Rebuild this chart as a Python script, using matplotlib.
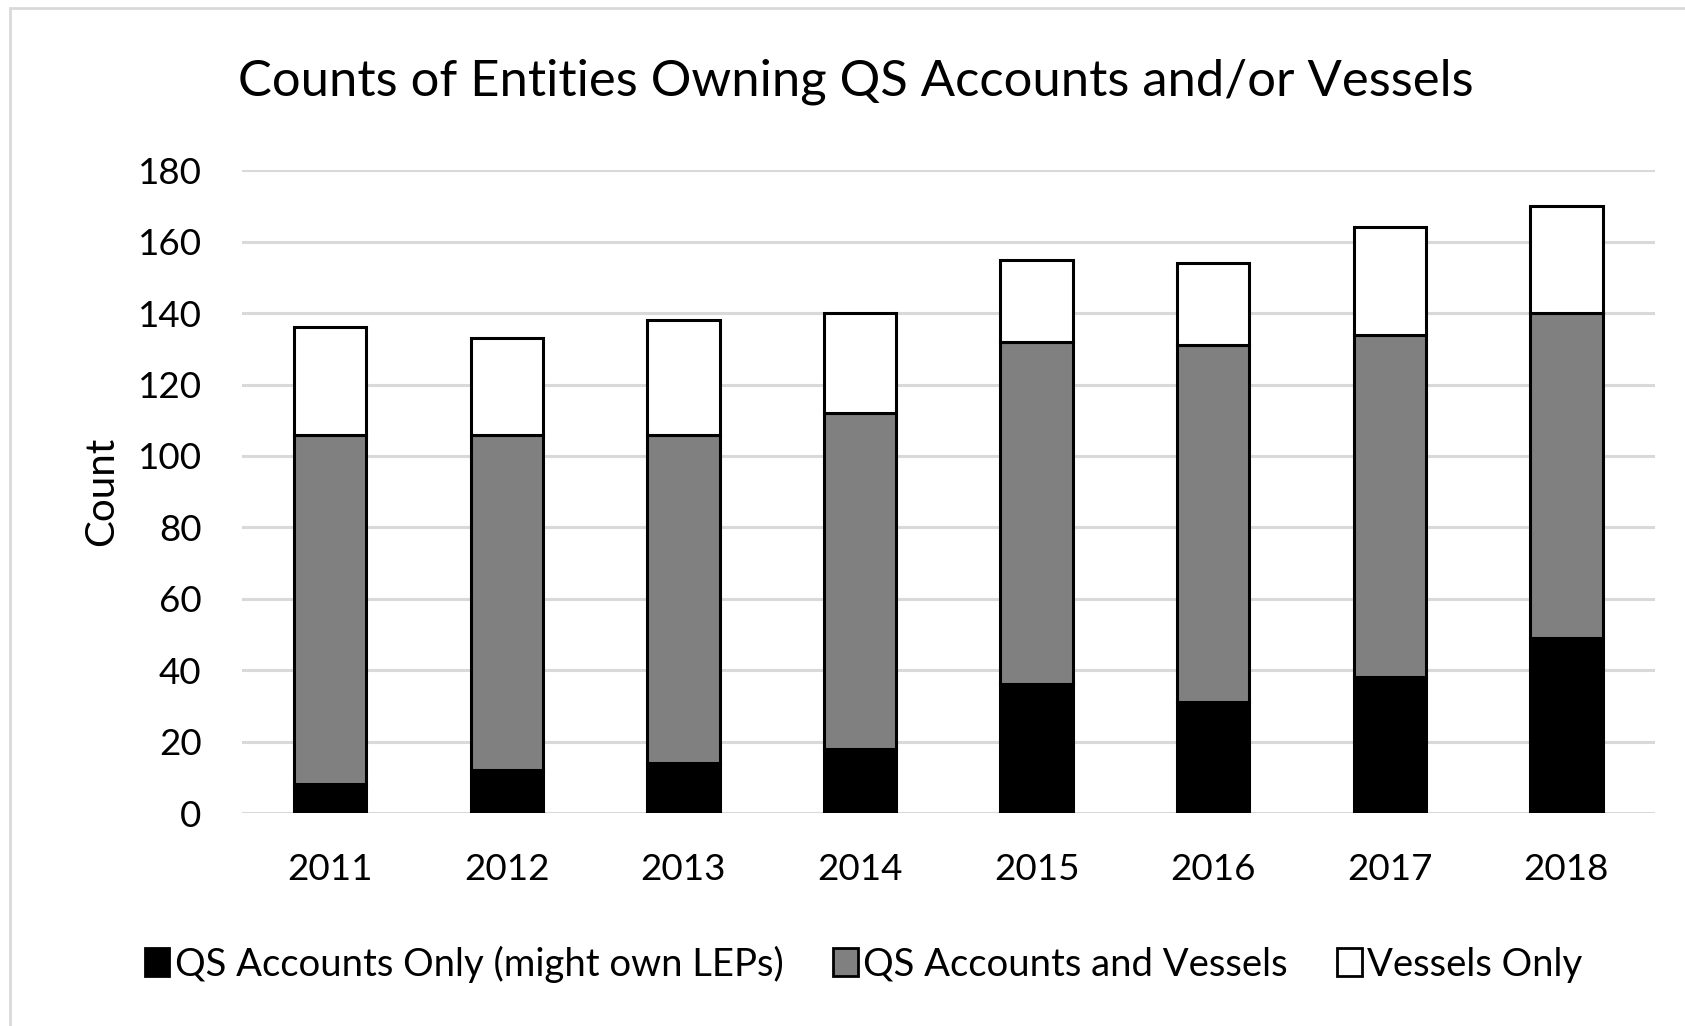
import matplotlib
matplotlib.use("Agg")
import matplotlib.pyplot as plt
from matplotlib.patches import Rectangle, Patch

years = ["2011", "2012", "2013", "2014", "2015", "2016", "2017", "2018"]
qs_only = [8, 12, 14, 18, 36, 31, 38, 49]
qs_and_vessels = [98, 94, 92, 94, 96, 100, 96, 91]
vessels_only = [30, 27, 32, 28, 23, 23, 30, 30]
series_names = ["QS Accounts Only (might own LEPs)", "QS Accounts and Vessels", "Vessels Only"]
title = "Counts of Entities Owning QS Accounts and/or Vessels"
yticks = [0, 20, 40, 60, 80, 100, 120, 140, 160, 180]

plt.rcParams['font.family'] = ['Lato', 'DejaVu Sans']

fig = plt.figure(figsize=(16.85, 10.26), dpi=100)
ax = fig.add_axes([0.1436, 0.2076, 0.8384, 0.6264])

x = list(range(len(years)))
w = 0.41
lw = 2.2
ax.bar(x, qs_only, width=w, color="black", edgecolor="black", linewidth=lw, zorder=3)
bottom2 = qs_only
ax.bar(x, qs_and_vessels, width=w, bottom=bottom2, color="#808080", edgecolor="black", linewidth=lw, zorder=3)
bottom3 = [a + b for a, b in zip(qs_only, qs_and_vessels)]
ax.bar(x, vessels_only, width=w, bottom=bottom3, color="white", edgecolor="black", linewidth=lw, zorder=3)

ax.set_xlim(-0.5, len(years) - 0.5)
ax.set_ylim(0, 180)
ax.set_yticks(yticks)
ax.set_yticklabels([str(t) for t in yticks], fontsize=26.5)
ax.set_xticks(x)
ax.set_xticklabels(years, fontsize=26.5)
ax.tick_params(axis='y', length=0, pad=29)
ax.tick_params(axis='x', length=0, pad=29)
ax.yaxis.grid(True, color="#d9d9d9", linewidth=2.2, zorder=0)
ax.set_axisbelow(True)
for s in ax.spines.values():
    s.set_visible(False)
ax.set_ylabel("Count", fontsize=29)
ax.yaxis.set_label_coords(-0.086, 0.5)

fig.text(0.508, 0.9205, title, ha="center", va="center", fontsize=36.5)

handles = [Patch(facecolor="black", edgecolor="black", linewidth=2),
           Patch(facecolor="#808080", edgecolor="black", linewidth=2),
           Patch(facecolor="white", edgecolor="black", linewidth=2)]
fig.legend(handles, series_names, loc="center", bbox_to_anchor=(0.5125, 0.0605), ncol=3,
           frameon=False, fontsize=27.5, handlelength=0.65, handleheight=0.75,
           handletextpad=0.15, columnspacing=1.28)

fig.patches.append(Rectangle((10 / 1685, -0.1), 1.2, (1026 - 8) / 1026 + 0.1,
                             transform=fig.transFigure, fill=False,
                             edgecolor="#d9d9d9", linewidth=2))

fig.savefig("out.png", dpi=100)
